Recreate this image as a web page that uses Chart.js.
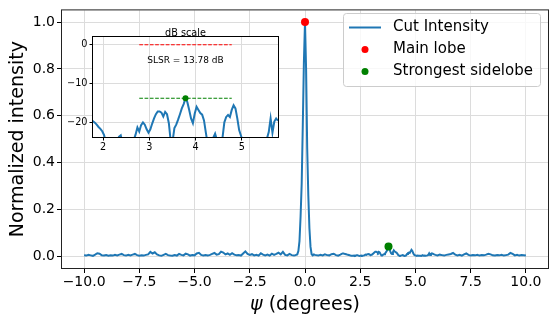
<!DOCTYPE html>
<html>
<head>
<meta charset="utf-8">
<script src="https://cdn.jsdelivr.net/npm/chart.js@4/dist/chart.umd.min.js"></script>
<style>
  html, body { margin: 0; padding: 0; background: #ffffff; }
  #wrap { position: relative; width: 556px; height: 321px; }
  canvas { position: absolute; left: 0; top: 0; }
</style>
</head>
<body>
<div id="wrap">
  <canvas id="main" width="556" height="321"></canvas>
  <canvas id="inset" width="556" height="321"></canvas>
</div>
<script>
// ---------------- data ----------------
const psi = [
  -10,-9.9,-9.8,-9.7,-9.6,-9.5,-9.4,-9.3,-9.2,-9.1,
  -9,-8.9,-8.8,-8.7,-8.6,-8.5,-8.4,-8.3,-8.2,-8.1,
  -8,-7.9,-7.8,-7.7,-7.6,-7.5,-7.4,-7.3,-7.2,-7.1,
  -7,-6.9,-6.8,-6.7,-6.6,-6.5,-6.4,-6.3,-6.2,-6.1,
  -6,-5.9,-5.8,-5.7,-5.6,-5.5,-5.4,-5.3,-5.2,-5.1,
  -5,-4.9,-4.8,-4.7,-4.6,-4.5,-4.4,-4.3,-4.2,-4.1,
  -4,-3.9,-3.8,-3.7,-3.6,-3.5,-3.4,-3.3,-3.2,-3.1,
  -3,-2.9,-2.8,-2.7,-2.6,-2.5,-2.4,-2.3,-2.2,-2.1,
  -2,-1.9,-1.8,-1.7,-1.6,-1.5,-1.4,-1.3,-1.2,-1.1,
  -1,-0.9,-0.8,-0.7,-0.6,-0.5,
  -0.45,-0.4,-0.35,-0.3,-0.25,-0.2,-0.15,-0.1,-0.05,0,0.05,0.1,0.15,0.2,0.25,0.3,0.35,0.4,0.45,
  0.5,0.6,0.7,0.8,0.9,1,1.1,1.2,1.3,1.4,1.5,1.6,1.7,
  1.74,1.78,1.82,1.86,1.9,1.94,1.98,
  2.02,2.06,2.1,2.14,2.18,2.22,2.26,2.3,2.34,2.38,
  2.42,2.46,2.5,2.54,2.58,2.62,2.66,2.7,2.74,2.78,
  2.82,2.86,2.9,2.94,2.98,3.02,3.06,3.1,3.14,3.18,
  3.22,3.26,3.3,3.34,3.38,3.42,3.46,3.5,3.54,3.58,
  3.62,3.66,3.7,3.74,3.78,3.82,3.86,3.9,3.94,3.98,
  4.02,4.06,4.1,4.14,4.18,4.22,4.26,4.3,4.34,4.38,
  4.42,4.46,4.5,4.54,4.58,4.62,4.66,4.7,4.74,4.78,
  4.82,4.86,4.9,4.94,4.98,5.02,5.06,5.1,5.14,5.18,
  5.22,5.26,5.3,5.34,5.38,5.42,5.46,5.5,5.54,5.58,
  5.62,5.66,5.7,5.74,5.78,5.82,
  5.9,6,6.1,6.2,6.3,6.4,6.5,6.6,6.7,6.8,
  6.9,7,7.1,7.2,7.3,7.4,7.5,7.6,7.7,7.8,
  7.9,8,8.1,8.2,8.3,8.4,8.5,8.6,8.7,8.8,
  8.9,9,9.1,9.2,9.3,9.4,9.5,9.6,9.7,9.8,
  9.9,10
];
const intensity = [
  0.004,0.003,0.006,0.004,0.002,0.007,0.013,0.011,0.004,0.003,
  0.005,0.002,0.004,0.003,0.006,0.004,0.007,0.010,0.005,0.003,
  0.006,0.004,0.007,0.010,0.005,0.002,0.004,0.003,0.006,0.008,
  0.019,0.012,0.017,0.008,0.004,0.002,0.006,0.010,0.005,0.003,
  0.002,0.005,0.003,0.010,0.006,0.004,0.011,0.008,0.003,0.005,
  0.004,0.012,0.015,0.006,0.003,0.005,0.003,0.006,0.010,0.014,
  0.007,0.009,0.020,0.016,0.008,0.012,0.006,0.013,0.007,0.004,
  0.005,0.003,0.012,0.021,0.010,0.006,0.009,0.004,0.006,0.003,
  0.013,0.007,0.004,0.007,0.003,0.011,0.006,0.010,0.015,0.008,
  0.019,0.006,0.004,0.010,0.005,0.003,
  0.004,0.006,0.008,0.022,0.065,0.17,0.31,0.56,0.83,1.0,0.80,0.46,0.26,0.12,0.04,0.009,0.004,0.008,0.006,
  0.005,0.003,0.006,0.004,0.008,0.005,0.004,0.009,0.011,0.005,0.003,0.007,0.012,
  0.0117,0.0107,0.0098,0.0087,0.0076,0.0068,0.0059,
  0.0047,0.0028,0.0020,0.0026,0.0022,0.0028,0.0019,0.0032,0.0042,0.0046,
  0.0028,0.0018,0.0025,0.0030,0.0021,0.0028,0.0035,0.0048,0.0074,0.0058,
  0.0085,0.0100,0.0087,0.0066,0.0054,0.0066,0.0093,0.0126,0.0162,0.0191,
  0.0191,0.0178,0.0141,0.0186,0.0162,0.0095,0.0033,0.0032,0.0071,0.0087,
  0.0117,0.0162,0.0229,0.0295,0.0419,0.0331,0.0209,0.0126,0.0095,0.0170,
  0.0251,0.0209,0.0174,0.0158,0.0112,0.0054,0.0028,0.0020,0.0028,0.0040,
  0.0051,0.0035,0.0018,0.0025,0.0040,0.0100,0.0138,0.0155,0.0138,0.0209,
  0.0275,0.0229,0.0126,0.0063,0.0045,0.0032,0.0022,0.0032,0.0020,0.0028,
  0.0025,0.0016,0.0032,0.0035,0.0022,0.0032,0.0020,0.0028,0.0038,0.0056,
  0.0126,0.0054,0.0105,0.0126,0.0110,0.0089,
  0.006,0.004,0.007,0.005,0.003,0.006,0.008,0.010,0.014,0.007,
  0.004,0.006,0.003,0.008,0.012,0.006,0.003,0.005,0.004,0.006,
  0.003,0.005,0.004,0.007,0.011,0.008,0.004,0.003,0.005,0.004,
  0.006,0.003,0.005,0.007,0.014,0.010,0.004,0.006,0.003,0.005,
  0.004,0.003
];
const mainLobePsi = [0.0];
const mainLobeValue = [1.0];
const sidelobePsi = [3.78];
const sidelobeValue = [0.0419];
const slsrDb = 13.78;

const seriesNames = ['Cut Intensity', 'Main lobe', 'Strongest sidelobe'];
const xTicks = [-10, -7.5, -5, -2.5, 0, 2.5, 5, 7.5, 10];
const xTickLabels = ['\u221210.0', '\u22127.5', '\u22125.0', '\u22122.5', '0.0', '2.5', '5.0', '7.5', '10.0'];
const yTicks = [0, 0.2, 0.4, 0.6, 0.8, 1.0];
const yTickLabels = ['0.0', '0.2', '0.4', '0.6', '0.8', '1.0'];
const insetXTicks = [2, 3, 4, 5];
const insetXTickLabels = ['2', '3', '4', '5'];
const insetYTicks = [-20, -10, 0];
const insetYTickLabels = ['\u221220', '\u221210', '0'];
const xTitleSymbol = '\u03c8';
const xTitleRest = ' (degrees)';
const yTitle = 'Normalized intensity';
const insetTitle = 'dB scale';
const slsrText = 'SLSR = 13.78 dB';

if (psi.length !== intensity.length) throw new Error('length mismatch ' + psi.length + ' vs ' + intensity.length);

// ---------------- styling ----------------
const FONT = 'DejaVu Sans';
const BLUE = '#1f77b4';
const GRID = '#dcdcdc';

const curve = psi.map((x, i) => ({ x: x, y: intensity[i] }));
const curveDb = psi.map((x, i) => ({ x: x, y: 10 * Math.log10(intensity[i]) }));

const mainFrame = {
  id: 'mainFrame',
  afterDatasetsDraw(chart) {
    const { ctx, chartArea: a } = chart;
    ctx.save();
    ctx.strokeStyle = '#222';
    ctx.lineWidth = 1;
    ctx.strokeRect(a.left - 0.5, a.top - 0.5, a.right - a.left + 1, a.bottom - a.top + 1);
    ctx.restore();
  },
  afterDraw(chart) {
    // x-axis title with italic psi (as matplotlib mathtext)
    const { ctx, chartArea: a } = chart;
    ctx.save();
    ctx.fillStyle = '#000';
    ctx.textBaseline = 'middle';
    ctx.textAlign = 'left';
    const fi = 'italic 19px "' + FONT + '"';
    const fr = '19px "' + FONT + '"';
    ctx.font = fi; const w1 = ctx.measureText(xTitleSymbol).width;
    ctx.font = fr; const w2 = ctx.measureText(xTitleRest).width;
    const cx = (a.left + a.right) / 2;
    const y = 304.6;
    let x = cx - (w1 + w2) / 2;
    ctx.font = fi; ctx.fillText(xTitleSymbol, x, y);
    ctx.font = fr; ctx.fillText(xTitleRest, x + w1, y);
    ctx.restore();
  }
};

const mainLegend = {
  id: 'mainLegend',
  afterDraw(chart) {
    const ctx = chart.ctx;
    const ds = chart.data.datasets;
    const bx = 343.5, by = 13.5, bw = 197, bh = 73, r = 3;
    ctx.save();
    ctx.beginPath();
    ctx.moveTo(bx + r, by);
    ctx.lineTo(bx + bw - r, by);
    ctx.arcTo(bx + bw, by, bx + bw, by + r, r);
    ctx.lineTo(bx + bw, by + bh - r);
    ctx.arcTo(bx + bw, by + bh, bx + bw - r, by + bh, r);
    ctx.lineTo(bx + r, by + bh);
    ctx.arcTo(bx, by + bh, bx, by + bh - r, r);
    ctx.lineTo(bx, by + r);
    ctx.arcTo(bx, by, bx + r, by, r);
    ctx.closePath();
    ctx.fillStyle = 'rgba(255,255,255,0.8)';
    ctx.fill();
    ctx.strokeStyle = '#cccccc';
    ctx.lineWidth = 1;
    ctx.stroke();
    const rows = [27.5, 49.5, 71.5];
    ds.forEach((d, i) => {
      const y = rows[i];
      if (d.showLine) {
        ctx.beginPath();
        ctx.moveTo(349, y);
        ctx.lineTo(381, y);
        ctx.strokeStyle = d.borderColor;
        ctx.lineWidth = 2;
        ctx.stroke();
      } else {
        ctx.beginPath();
        ctx.arc(365, y, 3.5, 0, Math.PI * 2);
        ctx.fillStyle = d.backgroundColor;
        ctx.fill();
      }
      ctx.fillStyle = '#000';
      ctx.font = '15px "' + FONT + '"';
      ctx.textBaseline = 'middle';
      ctx.textAlign = 'left';
      ctx.fillText(d.label, 393, y);
    });
    ctx.restore();
  }
};

new Chart(document.getElementById('main'), {
  type: 'scatter',
  data: {
    datasets: [
      { label: seriesNames[0], data: curve, showLine: true, borderColor: BLUE, backgroundColor: BLUE,
        borderWidth: 2, pointRadius: 0, tension: 0, order: 2 },
      { label: seriesNames[1], data: mainLobePsi.map((x, i) => ({ x: x, y: mainLobeValue[i] })),
        showLine: false, pointRadius: 4, backgroundColor: '#ff0000', borderColor: '#ff0000', borderWidth: 0, order: 0 },
      { label: seriesNames[2], data: sidelobePsi.map((x, i) => ({ x: x, y: sidelobeValue[i] })),
        showLine: false, pointRadius: 4, backgroundColor: '#008000', borderColor: '#008000', borderWidth: 0, order: 0 }
    ]
  },
  options: {
    responsive: false,
    devicePixelRatio: 1,
    animation: false,
    events: [],
    layout: { padding: { top: 8, right: 8, left: 0, bottom: 0 } },
    plugins: { legend: { display: false }, tooltip: { enabled: false } },
    scales: {
      x: {
        type: 'linear', min: -11, max: 11,
        afterBuildTicks: s => { s.ticks = xTicks.map(v => ({ value: v })); },
        afterFit: s => { s.height = 53; },
        ticks: { callback: (v, i) => xTickLabels[i], font: { family: FONT, size: 14 }, color: '#000',
                 padding: 1, maxRotation: 0, autoSkip: false },
        grid: { color: GRID, lineWidth: 1, tickLength: 5, tickColor: '#000', tickWidth: 1 },
        border: { display: false }
      },
      y: {
        type: 'linear', min: -0.05, max: 1.05,
        afterBuildTicks: s => { s.ticks = yTicks.map(v => ({ value: v })); },
        afterFit: s => { s.width = 62; },
        ticks: { callback: (v, i) => yTickLabels[i], font: { family: FONT, size: 14 }, color: '#000',
                 padding: 2, autoSkip: false },
        grid: { color: GRID, lineWidth: 1, tickLength: 5, tickColor: '#000', tickWidth: 1 },
        border: { display: false },
        title: { display: true, text: yTitle, font: { family: FONT, size: 19 }, color: '#000',
                 padding: { top: 7, bottom: 0 } }
      }
    }
  },
  plugins: [mainFrame, mainLegend]
});

// ---------------- inset ----------------
const insetDeco = {
  id: 'insetDeco',
  beforeDraw(chart) {
    const { ctx, chartArea: a } = chart;
    ctx.save();
    ctx.fillStyle = '#ffffff';
    ctx.fillRect(a.left, a.top, a.right - a.left, a.bottom - a.top);
    ctx.restore();
  },
  afterDraw(chart) {
    const { ctx, chartArea: a, scales } = chart;
    ctx.save();
    ctx.strokeStyle = '#000';
    ctx.lineWidth = 1;
    ctx.strokeRect(a.left - 0.5, a.top - 0.5, a.right - a.left + 1, a.bottom - a.top + 1);
    ctx.fillStyle = '#000';
    ctx.textAlign = 'center';
    ctx.textBaseline = 'alphabetic';
    ctx.font = '9.7px "' + FONT + '"';
    ctx.fillText(insetTitle, (a.left + a.right) / 2, a.top - 0.8);
    ctx.font = '9px "' + FONT + '"';
    ctx.fillText(slsrText, scales.x.getPixelForValue(sidelobePsi[0]), scales.y.getPixelForValue(0) + 18.5);
    ctx.restore();
  }
};

const peakDb = 10 * Math.log10(mainLobeValue[0]);
new Chart(document.getElementById('inset'), {
  type: 'scatter',
  data: {
    datasets: [
      { data: curveDb, showLine: true, borderColor: BLUE, borderWidth: 2, pointRadius: 0, tension: 0,
        clip: 0, order: 3 },
      { data: [{ x: sidelobePsi[0] - 1, y: peakDb }, { x: sidelobePsi[0] + 1, y: peakDb }], showLine: true,
        borderColor: '#ff0000', borderWidth: 1.1, borderDash: [3.7, 1.6], pointRadius: 0, clip: 0, order: 2 },
      { data: [{ x: sidelobePsi[0] - 1, y: -slsrDb }, { x: sidelobePsi[0] + 1, y: -slsrDb }], showLine: true,
        borderColor: '#008000', borderWidth: 1.1, borderDash: [3.7, 1.6], pointRadius: 0, clip: 0, order: 2 },
      { data: [{ x: sidelobePsi[0], y: -slsrDb }], showLine: false, pointRadius: 3,
        backgroundColor: '#008000', borderColor: '#008000', borderWidth: 0, order: 0 }
    ]
  },
  options: {
    responsive: false,
    devicePixelRatio: 1,
    animation: false,
    events: [],
    layout: { padding: { top: 37, right: 278, left: 0, bottom: 0 } },
    plugins: { legend: { display: false }, tooltip: { enabled: false } },
    scales: {
      x: {
        type: 'linear', min: sidelobePsi[0] - 2, max: sidelobePsi[0] + 2,
        afterBuildTicks: s => { s.ticks = insetXTicks.map(v => ({ value: v })); },
        afterFit: s => { s.height = 184; },
        ticks: { callback: (v, i) => insetXTickLabels[i], font: { family: FONT, size: 9.7 }, color: '#000',
                 padding: 1, maxRotation: 0, autoSkip: false },
        grid: { color: GRID, lineWidth: 1, tickLength: 3.5, tickColor: '#000', tickWidth: 1 },
        border: { display: false }
      },
      y: {
        type: 'linear', min: -slsrDb - 10, max: 2,
        afterBuildTicks: s => { s.ticks = insetYTicks.map(v => ({ value: v })); },
        afterFit: s => { s.width = 93; },
        ticks: { callback: (v, i) => insetYTickLabels[i], font: { family: FONT, size: 9.7 }, color: '#000',
                 padding: 2, autoSkip: false },
        grid: { color: GRID, lineWidth: 1, tickLength: 3.5, tickColor: '#000', tickWidth: 1 },
        border: { display: false }
      }
    }
  },
  plugins: [insetDeco]
});
</script>
</body>
</html>
